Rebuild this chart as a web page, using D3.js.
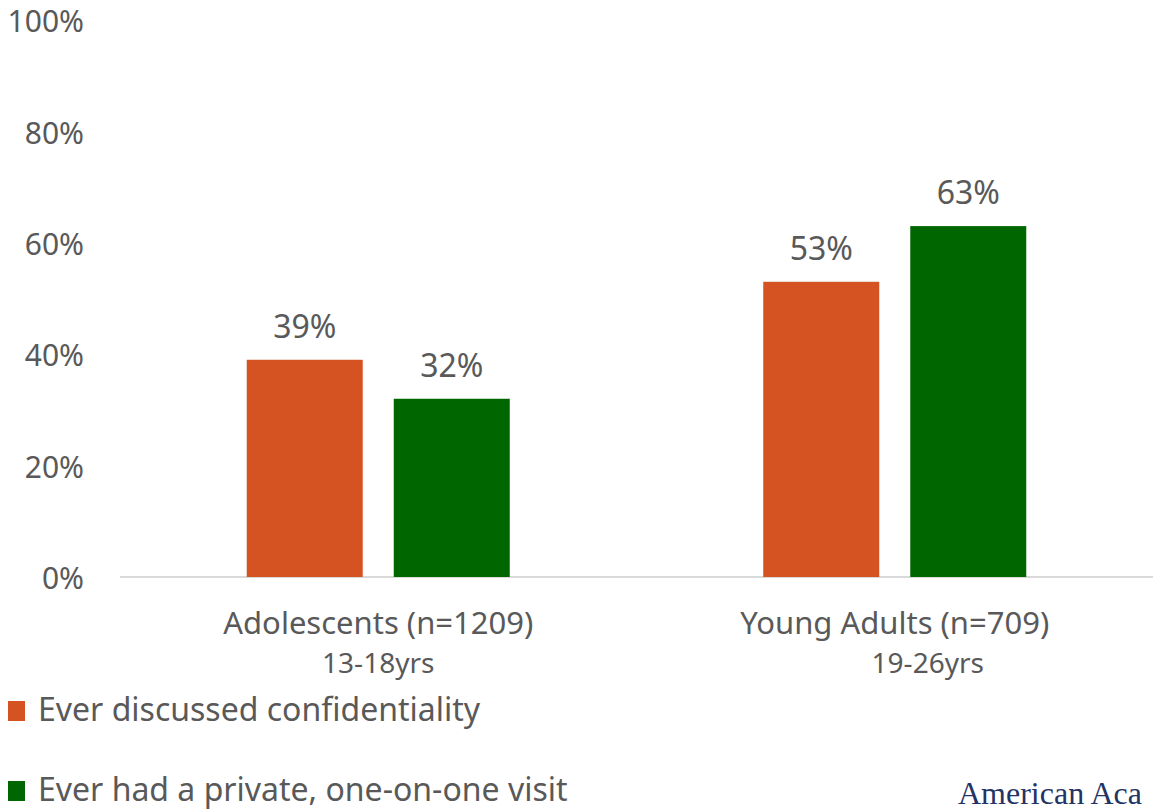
<!DOCTYPE html>
<html>
<head>
<meta charset="utf-8">
<script src="https://cdn.jsdelivr.net/npm/d3@7"></script>
<style>
  body { margin: 0; background: #fff; }
  text { font-family: "Noto Sans", "Open Sans", sans-serif; fill: #595959; }
</style>
</head>
<body>
<script>
// chart data
const categories = ['Adolescents (n=1209)', 'Young Adults (n=709)'];
const subLabels = ['13-18yrs', '19-26yrs'];
const series = ['Ever discussed confidentiality', 'Ever had a private, one-on-one visit'];
const discussed = [39, 53];
const privateVisit = [32, 63];
const yTicks = [0, 20, 40, 60, 80, 100];
const colors = ['#D55222', '#006600'];

const width = 1153, height = 811;
const margin = { top: 20, right: 0, bottom: 234, left: 120 };

const svg = d3.select('body').append('svg')
    .attr('width', width)
    .attr('height', height);

const x = d3.scaleBand().domain(categories).range([margin.left, width - margin.right]);
const y = d3.scaleLinear().domain([0, 100]).range([height - margin.bottom, margin.top]);

// value table built from the arrays
const values = [discussed, privateVisit];
const rows = [];
categories.forEach((c, i) => {
    series.forEach((s, j) => rows.push({ cat: c, series: s, idx: j, value: values[j][i] }));
});

// y axis labels only
const yAxis = d3.axisLeft(y).tickValues(yTicks).tickFormat(d => d + '%').tickSize(0).tickPadding(0);
const yg = svg.append('g')
    .attr('transform', `translate(84,2)`)
    .call(yAxis);
yg.select('.domain').remove();
yg.selectAll('text')
    .attr('font-size', 30)
    .attr('font-family', null)
    .attr('fill', '#595959');

// baseline
svg.append('line')
    .attr('x1', margin.left).attr('x2', width)
    .attr('y1', y(0)).attr('y2', y(0))
    .attr('stroke', '#d9d9d9')
    .attr('stroke-width', 2);

// bars
const groupW = 263;
const inner = d3.scaleBand().domain(series).paddingInner(0.211);

const groups = svg.selectAll('.grp')
    .data(categories)
    .enter().append('g')
    .attr('class', 'grp');

groups.each(function(c) {
    const cx = x(c) + x.bandwidth() / 2;
    inner.range([cx - groupW / 2, cx + groupW / 2]);
    const g = d3.select(this);
    const sub = rows.filter(r => r.cat === c);
    g.selectAll('rect')
        .data(sub)
        .enter().append('rect')
        .attr('x', d => inner(d.series))
        .attr('width', inner.bandwidth())
        .attr('y', d => y(d.value))
        .attr('height', d => y(0) - y(d.value))
        .attr('fill', d => colors[d.idx]);
    g.selectAll('.val')
        .data(sub)
        .enter().append('text')
        .attr('class', 'val')
        .attr('x', d => inner(d.series) + inner.bandwidth() / 2)
        .attr('y', d => y(d.value) - 22)
        .attr('text-anchor', 'middle')
        .attr('font-size', 32)
        .attr('fill', '#404040')
        .text(d => d.value + '%');
});

// category labels
svg.selectAll('.cat')
    .data(categories)
    .enter().append('text')
    .attr('class', 'cat')
    .attr('x', d => x(d) + x.bandwidth() / 2)
    .attr('y', 634)
    .attr('text-anchor', 'middle')
    .attr('font-size', 31)
    .text(d => d);

svg.selectAll('.sub')
    .data(subLabels)
    .enter().append('text')
    .attr('class', 'sub')
    .attr('x', (d, i) => x(categories[i]) + x.bandwidth() / 2 + (i === 1 ? 33 : 0))
    .attr('y', 673)
    .attr('font-size', 28)
    .attr('text-anchor', 'middle')
    .text(d => d);

// legend
const legend = svg.selectAll('.leg')
    .data(series)
    .enter().append('g')
    .attr('class', 'leg')
    .attr('transform', (d, i) => `translate(8,${701 + i * 80})`);

legend.append('rect')
    .attr('width', 17).attr('height', 20)
    .attr('fill', (d, i) => colors[i]);

legend.append('text')
    .attr('x', 30)
    .attr('y', 20)
    .attr('font-size', 32)
    .text(d => d);

// logo text, cut at the right edge in the original
svg.append('text')
    .attr('x', 958)
    .attr('y', 804)
    .attr('font-size', 32)
    .style('font-family', '"Liberation Serif", "DejaVu Serif", serif')
    .style('fill', '#233366')
    .text('American Aca');
</script>
</body>
</html>
